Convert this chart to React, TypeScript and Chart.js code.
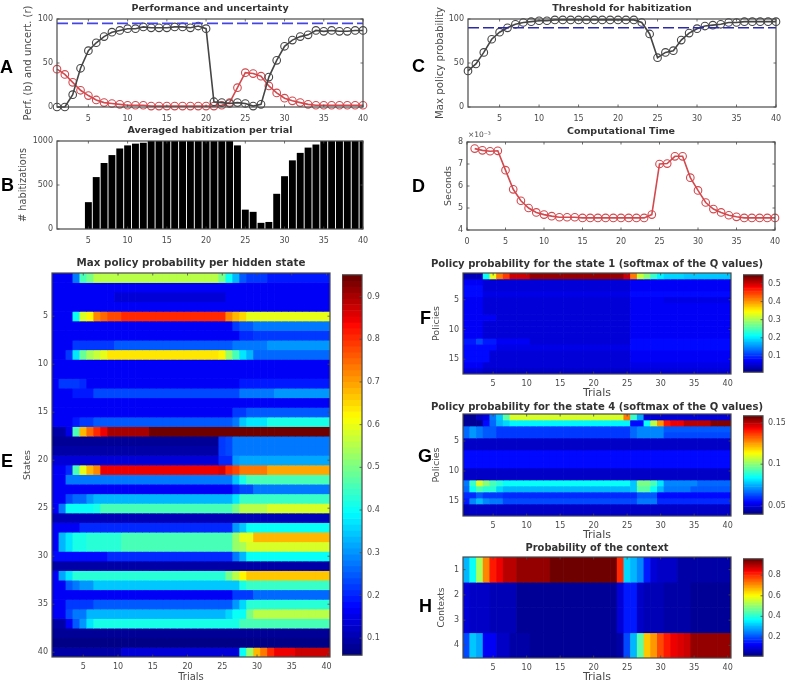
import React, { useEffect, useRef } from "react";
import { Chart, registerables } from "chart.js";

Chart.register(...registerables);

const trials = Array.from({ length: 40 }, (_, i) => i + 1);

const performance = [0,0,14,44,64,73,80,85,87,89,89,91,90,90,90,91,91,90,92,89,6,5,4,5,4,1,3,34,53,69,76,80,82,87,86,87,86,86,87,87];
const uncertainty = [43,37,28,19,13,8,5,4,3,2,2,2,1,1,1,1,1,1,1,1,1,2,5,22,39,38,35,24,16,10,7,5,3,2,2,2,2,2,2,2];
const habitizations = [0,0,0,0,305,590,750,840,915,950,970,980,1000,1000,1000,1000,1000,1000,1000,1000,1000,1000,1000,950,220,195,70,80,400,600,780,865,925,960,1000,1000,1000,1000,1000,1000];
const maxPolicy = [41,49,62,77,85,90,94,96,97,98,98,99,99,99,99,99,99,99,99,99,99,99,96,83,56,62,64,76,84,89,92,93,94,96,96,97,97,97,97,97];
const compTime = [7.7,7.62,7.58,7.6,6.72,5.85,5.33,5.0,4.8,4.7,4.63,4.58,4.58,4.58,4.55,4.55,4.55,4.55,4.55,4.55,4.55,4.55,4.55,4.7,7.0,7.02,7.35,7.35,6.38,5.8,5.25,4.95,4.8,4.67,4.6,4.55,4.55,4.55,4.55,4.55];
const perfLine = 95;
const thresholdLine = 90;

// Heat-map rows are written as value, last trial of that value, value, last trial, ...
const statesRows = [
  [.17,3,.27,4,.45,5,.5,6,.55,24,.5,25,.4,26,.33,27,.25,28,.22,31,.19,40],
  [.17,40],
  [.16,9,.14,25,.16,40],
  [.16,40],
  [.17,3,.4,4,.58,5,.62,6,.72,7,.75,8,.78,10,.8,25,.72,26,.68,27,.65,28,.6,40],
  [.17,26,.22,27,.25,29,.28,40],
  [.16,27,.2,29,.22,40],
  [.17,3,.22,9,.25,26,.27,31,.3,40],
  [.17,2,.22,3,.38,4,.48,5,.54,6,.57,7,.6,8,.64,24,.63,25,.52,26,.45,27,.38,28,.33,29,.26,40],
  [.17,40],
  [.17,27,.16,40],
  [.17,1,.22,4,.2,5,.17,27,.19,40],
  [.17,3,.19,6,.23,26,.24,27,.28,32,.3,40],
  [.17,40],
  [.17,26,.22,28,.25,40],
  [.17,3,.19,4,.22,6,.25,26,.28,27,.35,28,.38,31,.42,40],
  [.09,2,.15,3,.45,4,.68,5,.75,6,.8,7,.84,8,.9,14,.94,40],
  [.08,24,.22,25,.24,26,.27,40],
  [.09,24,.22,25,.24,26,.28,40],
  [.13,24,.2,26,.3,27,.32,40],
  [.17,2,.2,3,.45,4,.6,5,.68,6,.72,7,.84,24,.86,25,.8,26,.78,27,.73,31,.7,40],
  [.17,2,.28,26,.35,27,.42,28,.46,40],
  [.16,26,.2,27,.24,29,.28,40],
  [.17,2,.23,3,.26,5,.3,6,.33,26,.38,27,.44,40],
  [.17,1,.27,2,.4,6,.42,7,.45,26,.5,27,.55,31,.58,40],
  [.11,40],
  [.16,4,.2,26,.3,27,.35,28,.4,40],
  [.17,1,.33,2,.38,3,.41,5,.43,10,.45,26,.52,27,.6,29,.68,40],
  [.17,1,.33,2,.38,3,.41,5,.43,10,.45,26,.52,27,.54,28,.58,40],
  [.18,8,.2,26,.27,27,.33,28,.4,40],
  [.1,40],
  [.17,1,.32,2,.38,3,.43,25,.5,26,.55,27,.62,28,.67,40],
  [.17,2,.25,3,.28,4,.31,6,.34,26,.35,27,.42,28,.44,40],
  [.16,26,.22,29,.26,40],
  [.17,2,.22,6,.25,26,.3,27,.36,28,.43,40],
  [.17,2,.23,3,.27,5,.33,25,.36,26,.4,28,.5,29,.55,40],
  [.1,2,.17,3,.25,4,.3,5,.38,6,.42,27,.45,40],
  [.08,40],
  [.07,40],
  [.1,10,.14,27,.4,28,.52,29,.68,30,.74,31,.8,32,.84,35,.88,40],
];

const state1Rows = [
  [.04,3,.22,4,.33,5,.42,6,.45,7,.5,10,.53,24,.5,25,.42,26,.32,27,.28,28,.24,29,.21,30,.19,33,.18,40],
  [.07,3,.06,25,.07,40],
  [.08,3,.06,25,.075,40],
  [.08,3,.065,25,.08,40],
  [.07,3,.055,25,.07,30,.065,40],
  [.07,3,.055,25,.07,40],
  [.075,3,.06,25,.07,40],
  [.075,5,.055,25,.07,40],
  [.07,3,.055,25,.07,40],
  [.07,3,.055,25,.07,40],
  [.07,3,.055,25,.07,40],
  [.09,2,.115,3,.09,5,.07,10,.06,25,.08,40],
  [.085,5,.065,25,.08,40],
  [.08,4,.06,25,.07,40],
  [.08,4,.06,10,.055,25,.07,40],
  [.07,3,.06,25,.065,40],
  [.06,3,.05,25,.06,40],
];

const state4Rows = [
  [.043,1,.042,2,.048,3,.052,4,.068,5,.078,6,.095,7,.11,24,.13,25,.09,26,.075,27,.05,40],
  [.043,3,.055,4,.067,5,.076,6,.08,7,.083,25,.055,27,.085,28,.105,29,.125,30,.14,31,.145,33,.15,37,.155,40],
  [.066,1,.072,2,.068,3,.064,5,.062,25,.066,26,.07,30,.064,40],
  [.066,1,.072,2,.068,3,.064,5,.062,25,.066,26,.07,30,.063,40],
  [.048,40],
  [.048,40],
  [.055,40],
  [.055,40],
  [.055,40],
  [.048,40],
  [.048,40],
  [.068,1,.09,2,.11,3,.1,4,.092,5,.088,6,.086,25,.078,26,.098,28,.092,29,.082,30,.07,35,.066,40],
  [.066,1,.085,2,.092,3,.088,5,.08,6,.076,25,.078,26,.095,28,.086,29,.076,30,.068,34,.065,40],
  [.06,2,.064,3,.062,6,.059,26,.064,29,.056,40],
  [.058,1,.07,2,.076,3,.07,4,.068,6,.063,26,.068,29,.06,40],
  [.046,1,.048,40],
  [.046,1,.048,40],
];

const contextRows = [
  [.3,1,.38,2,.52,3,.72,4,.82,5,.85,6,.9,8,.93,13,.95,23,.8,24,.33,25,.3,26,.26,27,.15,28,.1,29,.08,32,.05,40],
  [.1,1,.08,4,.06,8,.04,23,.1,24,.15,26,.08,27,.07,30,.05,34,.04,40],
  [.1,1,.08,4,.06,8,.04,23,.1,24,.15,26,.08,27,.07,30,.05,34,.04,40],
  [.2,1,.32,2,.28,3,.12,5,.08,7,.05,10,.03,23,.05,24,.2,25,.3,26,.45,27,.65,28,.7,29,.78,30,.82,31,.85,32,.87,33,.88,34,.92,40],
];

const xTicks5 = [5, 10, 15, 20, 25, 30, 35, 40];
const xTicks0 = [0, 5, 10, 15, 20, 25, 30, 35, 40];

const FONT = "'DejaVu Sans'";
const INK = "#4a4a4a";
const LINE_K = "#454545";
const LINE_R = "#d2494e";

function expand(rle: number[]): number[] {
  const out: number[] = [];
  for (let i = 0; i < rle.length; i += 2) while (out.length < rle[i + 1]) out.push(rle[i]);
  return out;
}

function jet(v: number, lo: number, hi: number): string {
  const idx = Math.max(0, Math.min(63, Math.floor(((v - lo) / (hi - lo)) * 64)));
  const t = (idx + 0.5) / 64;
  const c = (x: number) => Math.round(255 * Math.max(0, Math.min(1, x)));
  return `rgb(${c(Math.min(4 * t - 1.5, -4.6 * t + 5))},${c(Math.min(4 * t - 0.5, -4 * t + 3.5))},${c(Math.min(4 * t + 0.5, -4 * t + 2.5))})`;
}

const framePlugin = {
  id: "frame",
  afterDatasetsDraw(chart: any, _a: any, opts: any) {
    const { ctx, chartArea: a, scales } = chart;
    ctx.save();
    ctx.strokeStyle = INK;
    ctx.lineWidth = 1.2;
    ctx.strokeRect(a.left, a.top, a.right - a.left, a.bottom - a.top);
    ctx.lineWidth = 0.8;
    const len = 2.5;
    ctx.beginPath();
    if (scales.x.options.display !== false) {
      for (const t of scales.x.ticks) {
        const p = scales.x.getPixelForValue(t.value);
        ctx.moveTo(p, a.bottom); ctx.lineTo(p, a.bottom - len);
        ctx.moveTo(p, a.top); ctx.lineTo(p, a.top + len);
      }
    }
    for (const t of scales.y.ticks) {
      const p = scales.y.getPixelForValue(t.value);
      ctx.moveTo(a.right, p); ctx.lineTo(a.right - len, p);
      if (!opts.rightOnly) { ctx.moveTo(a.left, p); ctx.lineTo(a.left + len, p); }
    }
    ctx.stroke();
    ctx.restore();
  },
};

type Spec = {
  box: [number, number, number, number];
  title?: string; titleY?: number; titleSize?: number;
  yLabel?: string; yLabelX?: number; yLabelSize?: number;
  xLabel?: string; xLabelY?: number; xLabelSize?: number;
  xMin: number; xMax: number; xTicks: number[];
  yMin: number; yMax: number; yTicks: number[]; yReverse?: boolean;
  xPad?: number;
  type: string;
  datasets: any[];
};

function fmt(v: any) { return String(v); }

function PlotCanvas({ spec }: { spec: Spec }) {
  const ref = useRef<HTMLCanvasElement>(null);
  const [l, t, r, b] = spec.box;
  const lh = 12;
  const ty = spec.titleY ?? t - 10;
  const mT = t - ty + lh / 2;
  const mL = l - (spec.yLabelX as number) + 6;
  const mR = mL;
  const mB = spec.xLabel ? (spec.xLabelY as number) + 6 - b : 22;
  useEffect(() => {
    const chart = new Chart(ref.current as HTMLCanvasElement, {
      type: spec.type as any,
      data: { datasets: spec.datasets },
      plugins: [framePlugin],
      options: {
        animation: false, responsive: false, devicePixelRatio: 1,
        layout: { padding: 0 },
        plugins: {
          legend: { display: false }, tooltip: { enabled: false },
          title: {
            display: true, text: spec.title, color: "#333",
            font: { family: FONT, size: spec.titleSize ?? 9.5, weight: "bold", lineHeight: lh / (spec.titleSize ?? 9.5) },
            padding: { top: 0, bottom: t - ty - lh / 2 },
          },
        },
        scales: {
          x: {
            type: "linear", offset: false, min: spec.xMin, max: spec.xMax,
            grid: { display: false, drawTicks: false }, border: { display: false },
            afterBuildTicks(s: any) { s.ticks = spec.xTicks.map((value) => ({ value })); },
            afterFit(s: any) { s.height = mB; },
            ticks: { color: INK, font: { family: FONT, size: 8 }, padding: spec.xPad ?? 6, autoSkip: false, maxRotation: 0, callback: fmt },
            title: { display: !!spec.xLabel, text: spec.xLabel, color: INK, padding: 0, font: { family: FONT, size: spec.xLabelSize ?? 10, lineHeight: 1.2 } },
          },
          y: {
            type: "linear", offset: false, min: spec.yMin, max: spec.yMax, reverse: !!spec.yReverse,
            grid: { display: false, drawTicks: false }, border: { display: false },
            afterBuildTicks(s: any) { s.ticks = spec.yTicks.map((value) => ({ value })); },
            afterFit(s: any) { s.width = mL; },
            ticks: { color: INK, font: { family: FONT, size: 8 }, padding: 4, autoSkip: false, callback: fmt },
            title: { display: !!spec.yLabel, text: spec.yLabel, color: INK, padding: 0, font: { family: FONT, size: spec.yLabelSize ?? 9.5, lineHeight: 1.2 } },
          },
          // empty right-hand axis of the same width, so that the title centres on the plot
          yBalance: {
            type: "linear", position: "right", display: true,
            grid: { display: false, drawTicks: false }, border: { display: false },
            ticks: { display: false },
            afterFit(s: any) { s.width = mR; },
          },
        },
      } as any,
    });
    return () => chart.destroy();
  }, []);
  return (
    <canvas ref={ref} width={r - l + mL + mR} height={b - t + mT + mB}
      style={{ position: "absolute", left: l - mL, top: t - mT, width: r - l + mL + mR, height: b - t + mT + mB }} />
  );
}

function ColorBar({ box, lo, hi, ticks }: { box: number[]; lo: number; hi: number; ticks: number[] }) {
  const ref = useRef<HTMLCanvasElement>(null);
  const [l, t, r, b] = box;
  const m = 8, mR = 22;
  useEffect(() => {
    const levels = Array.from({ length: 64 }, (_, i) => lo + ((i + 0.5) / 64) * (hi - lo));
    const chart = new Chart(ref.current as HTMLCanvasElement, {
      type: "bar",
      data: { datasets: [{
        data: levels.map((v) => ({ x: [0, 1], y: v })),
        backgroundColor: levels.map((v) => jet(v, lo, hi)),
        barPercentage: 1, categoryPercentage: 1, borderWidth: 0,
      }] },
      plugins: [framePlugin],
      options: {
        indexAxis: "y", animation: false, responsive: false, devicePixelRatio: 1,
        layout: { padding: { top: m, bottom: m } },
        plugins: { legend: { display: false }, tooltip: { enabled: false }, frame: { rightOnly: true } },
        scales: {
          x: { type: "linear", min: 0, max: 1, display: false },
          y: {
            type: "linear", offset: false, position: "right", min: lo, max: hi,
            grid: { display: false, drawTicks: false }, border: { display: false },
            afterBuildTicks(s: any) { s.ticks = ticks.map((value) => ({ value })); },
            afterFit(s: any) { s.width = mR; },
            ticks: { color: INK, font: { family: FONT, size: 8 }, padding: 5, autoSkip: false, callback: fmt },
          },
        },
      } as any,
    });
    return () => chart.destroy();
  }, []);
  return (
    <canvas ref={ref} width={r - l + mR} height={b - t + 2 * m}
      style={{ position: "absolute", left: l, top: t - m, width: r - l + mR, height: b - t + 2 * m }} />
  );
}

function lineSet(values: number[], color: string) {
  return {
    data: trials.map((x, i) => ({ x, y: values[i] })),
    borderColor: color, borderWidth: 1.6, pointRadius: 3.8, pointBorderWidth: 1.1,
    pointBackgroundColor: "rgba(0,0,0,0)", pointBorderColor: color, clip: false,
  };
}

function dashSet(v: number, color: string) {
  return {
    data: [{ x: 1, y: v }, { x: 40, y: v }],
    borderColor: color, borderWidth: 1.6, borderDash: [11, 4], pointRadius: 0, clip: false,
  };
}

function heatSets(rows: number[][], lo: number, hi: number) {
  return rows.map((rle, i) => {
    const cells = expand(rle);
    const row = i + 1;
    return {
      data: trials.map((x) => ({ x, y: [row - 0.5, row + 0.5] })),
      backgroundColor: cells.map((v) => jet(v, lo, hi)),
      grouped: false, barPercentage: 1, categoryPercentage: 1, borderWidth: 0,
    };
  });
}

const panels: Spec[] = [
  { box: [57, 19, 363, 107], title: "Performance and uncertainty", titleY: 9, yLabel: "Perf. (b) and uncert. (r)", yLabelX: 28, yLabelSize: 10,
    xMin: 1, xMax: 40, xTicks: xTicks5, yMin: 0, yMax: 100, yTicks: [0, 50, 100], type: "line", xPad: 7,
    datasets: [dashSet(perfLine, "#4545e0"), lineSet(performance, LINE_K), lineSet(uncertainty, LINE_R)] },
  { box: [57, 141, 363, 229], title: "Averaged habitization per trial", titleY: 131, yLabel: "# habitizations", yLabelX: 24, yLabelSize: 9.8,
    xMin: 1, xMax: 40, xTicks: xTicks5, yMin: 0, yMax: 1000, yTicks: [0, 500, 1000], type: "bar", xPad: 7,
    datasets: [{ data: trials.map((x, i) => ({ x, y: habitizations[i] })), backgroundColor: "#000", barPercentage: 0.88, categoryPercentage: 1 }] },
  { box: [468, 19, 776, 107], title: "Threshold for habitization", titleY: 9, yLabel: "Max policy probability", yLabelX: 440, yLabelSize: 10.2,
    xMin: 1, xMax: 40, xTicks: xTicks5, yMin: 0, yMax: 100, yTicks: [0, 50, 100], type: "line", xPad: 7,
    datasets: [dashSet(thresholdLine, "#2a2ab0"), lineSet(maxPolicy, LINE_K)] },
  { box: [467, 142, 775, 230], title: "Computational Time", titleY: 132, yLabel: "Seconds", yLabelX: 449,
    xMin: 0, xMax: 40, xTicks: xTicks0, yMin: 4, yMax: 8, yTicks: [4, 5, 6, 7, 8], type: "line", xPad: 7,
    datasets: [lineSet(compTime, LINE_R)] },
  { box: [52, 273, 330, 657], title: "Max policy probability per hidden state", titleY: 263, titleSize: 10.3, yLabel: "States", yLabelX: 28, xLabel: "Trials", xLabelY: 677,
    xMin: 0.5, xMax: 40.5, xTicks: xTicks5, yMin: 0.5, yMax: 40.5, yTicks: [5, 10, 15, 20, 25, 30, 35, 40], yReverse: true, type: "bar", xPad: 5,
    datasets: heatSets(statesRows, 0.06, 0.951) },
  { box: [463, 273, 731, 374], title: "Policy probability for the state 1 (softmax of the Q values)", titleY: 264, titleSize: 10.9, yLabel: "Policies", yLabelX: 437, xLabel: "Trials", xLabelY: 394, xLabelSize: 11,
    xMin: 0.5, xMax: 40.5, xTicks: xTicks5, yMin: 0.5, yMax: 17.5, yTicks: [5, 10, 15], yReverse: true, type: "bar", xPad: 5,
    datasets: heatSets(state1Rows, 0.01, 0.548) },
  { box: [463, 414, 731, 516], title: "Policy probability for the state 4 (softmax of the Q values)", titleY: 407, titleSize: 10.9, yLabel: "Policies", yLabelX: 437, xLabel: "Trials", xLabelY: 536, xLabelSize: 11,
    xMin: 0.5, xMax: 40.5, xTicks: xTicks5, yMin: 0.5, yMax: 17.5, yTicks: [5, 10, 15], yReverse: true, type: "bar", xPad: 5,
    datasets: heatSets(state4Rows, 0.04, 0.158) },
  { box: [463, 557, 731, 658], title: "Probability of the context", titleY: 548, titleSize: 9.9, yLabel: "Contexts", yLabelX: 442, yLabelSize: 9, xLabel: "Trials", xLabelY: 678, xLabelSize: 11,
    xMin: 0.5, xMax: 40.5, xTicks: xTicks5, yMin: 0.5, yMax: 4.5, yTicks: [1, 2, 3, 4], yReverse: true, type: "bar", xPad: 5,
    datasets: heatSets(contextRows, 0.012, 0.96) },
];

const bars = [
  { box: [342, 273, 362, 657], lo: 0.06, hi: 0.951, ticks: [0.1, 0.2, 0.3, 0.4, 0.5, 0.6, 0.7, 0.8, 0.9] },
  { box: [743, 273, 763, 374], lo: 0.01, hi: 0.548, ticks: [0.1, 0.2, 0.3, 0.4, 0.5] },
  { box: [743, 414, 763, 516], lo: 0.04, hi: 0.158, ticks: [0.05, 0.1, 0.15] },
  { box: [743, 557, 763, 658], lo: 0.012, hi: 0.96, ticks: [0.2, 0.4, 0.6, 0.8] },
];

const letters = [
  { s: "A", x: 0, y: 67 }, { s: "B", x: 1, y: 185 }, { s: "C", x: 412, y: 66 }, { s: "D", x: 412, y: 186 },
  { s: "E", x: 1, y: 461 }, { s: "F", x: 420, y: 318 }, { s: "G", x: 418, y: 456 }, { s: "H", x: 419, y: 606 },
];

export default function App() {
  return (
    <div style={{ position: "absolute", left: 0, top: 0, width: 785, height: 684, overflow: "hidden", background: "#fff" }}>
      <div style={{ position: "absolute", inset: 0, filter: "blur(0.55px)" }}>
        {panels.map((p, i) => <PlotCanvas key={i} spec={p} />)}
        {bars.map((c, i) => <ColorBar key={i} box={c.box} lo={c.lo} hi={c.hi} ticks={c.ticks} />)}
        <span style={{ position: "absolute", left: 468, top: 130, font: `7.5px ${FONT}`, color: INK }}>×10⁻³</span>
      </div>
      {letters.map((k) => (
        <span key={k.s} style={{ position: "absolute", left: k.x, top: k.y - 10, lineHeight: "20px", font: "bold 18px 'Liberation Sans'", color: "#000" }}>{k.s}</span>
      ))}
    </div>
  );
}
